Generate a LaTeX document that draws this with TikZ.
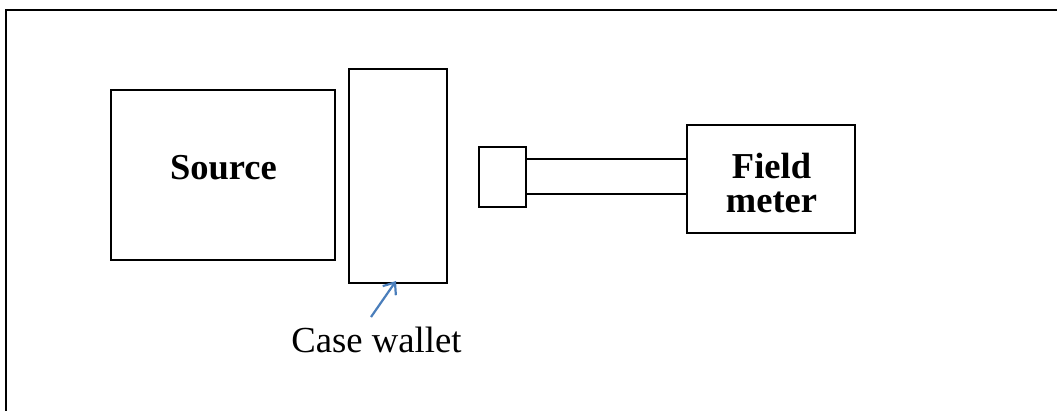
\documentclass[tikz,border=0pt]{standalone}
\usepackage{fontspec}
\setmainfont{Liberation Serif}
\usetikzlibrary{arrows.meta}
\definecolor{arrowblue}{HTML}{4A7EBB}
\begin{document}
\begin{tikzpicture}[x=1pt,y=-1pt,
  box/.style={draw=black,line width=1.7pt,fill=none},
  frameline/.style={draw=black,line width=2.4pt},
  lbl/.style={font=\fontsize{36.5}{34}\selectfont\bfseries,align=center,inner sep=0pt},
  plain/.style={font=\fontsize{36.7}{40}\selectfont,inner sep=0pt}]
\useasboundingbox (0,0) rectangle (1057,410);
% outer frame (only top and left edges visible)
\draw[frameline] (6,420) -- (6,10) -- (1070,10);
% source
\draw[box] (111,90) rectangle (335,260);
\node[lbl,anchor=base] (src) at (223.5,179) {Source};
% case wall
\draw[box] (349,69) rectangle (447,283);
\coordinate (wallbot) at (396,283);
% small probe box
\draw[box] (479,147) rectangle (526,207);
% probe arm
\draw[box] (526,159) -- (687,159);
\draw[box] (526,194) -- (687,194);
% field meter
\draw[box] (687,125) rectangle (855,233);
\node[lbl,anchor=base] (fm) at (771.5,212) {Field\\meter};
% label and arrow
\node[plain,anchor=base] (cw) at (376.5,352) {Case wallet};
\coordinate (tail) at (371,317);
\draw[arrowblue,line width=2.2pt,-{Straight Barb[length=10pt,width=16pt]}] (tail) -- ([yshift=2pt]wallbot);
\end{tikzpicture}
\end{document}
